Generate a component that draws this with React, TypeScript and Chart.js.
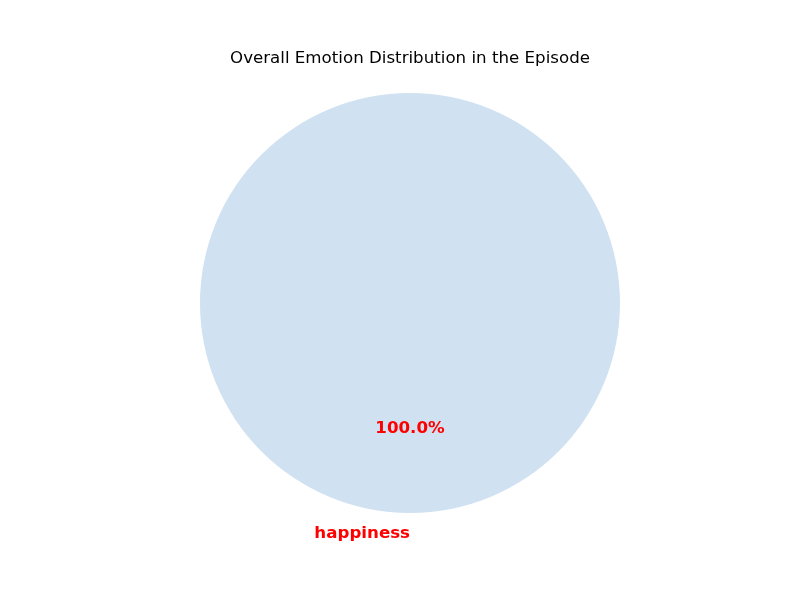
import React, { useEffect, useRef } from "react";
import { Chart, registerables } from "chart.js";

Chart.register(...registerables);

const categories: string[] = ["happiness"];
const values: number[] = [100];
const sliceColors: string[] = ["#d0e1f2"];
const titleText = "Overall Emotion Distribution in the Episode";

const labelPlugin = {
  id: "mplLabels",
  afterDraw(chart: any) {
    const ctx = chart.ctx;
    const meta = chart.getDatasetMeta(0);
    const total = values.reduce((a, b) => a + b, 0);
    ctx.save();
    ctx.fillStyle = "#000000";
    ctx.font = "16.67px 'DejaVu Sans'";
    ctx.textAlign = "center";
    ctx.textBaseline = "middle";
    ctx.fillText(titleText, 410, 58.5);
    meta.data.forEach((arc: any, i: number) => {
      const p = arc.getProps(["x", "y", "startAngle", "endAngle", "outerRadius"], true);
      const mid = (p.startAngle + p.endAngle) / 2;
      const r = p.outerRadius;
      ctx.fillStyle = "red";
      ctx.font = "bold 16.67px 'DejaVu Sans'";
      ctx.textBaseline = "middle";
      ctx.textAlign = "center";
      const pct = ((values[i] / total) * 100).toFixed(1) + "%";
      ctx.fillText(pct, p.x + Math.cos(mid) * r * 0.6, p.y + Math.sin(mid) * r * 0.6);
      ctx.textAlign = Math.cos(mid) > 1e-6 ? "left" : "right";
      ctx.fillText(categories[i], p.x + Math.cos(mid) * r * 1.1, p.y + Math.sin(mid) * r * 1.1);
    });
    ctx.restore();
  },
};

export default function App() {
  const ref = useRef<HTMLCanvasElement>(null);
  useEffect(() => {
    if (!ref.current) return;
    const chart = new Chart(ref.current, {
      type: "pie",
      data: {
        labels: categories,
        datasets: [{ data: values, backgroundColor: sliceColors, borderWidth: 0 }],
      },
      options: {
        animation: false,
        responsive: false,
        layout: { padding: { left: 200, right: 180, top: 93, bottom: 87 } },
        plugins: { legend: { display: false }, tooltip: { enabled: false }, title: { display: false } },
      },
      plugins: [labelPlugin],
    });
    return () => chart.destroy();
  }, []);
  return (
    <div style={{ position: "fixed", left: 0, top: 0, width: 800, height: 600, background: "#fff" }}>
      <canvas ref={ref} width={800} height={600} style={{ width: 800, height: 600 }} />
    </div>
  );
}
